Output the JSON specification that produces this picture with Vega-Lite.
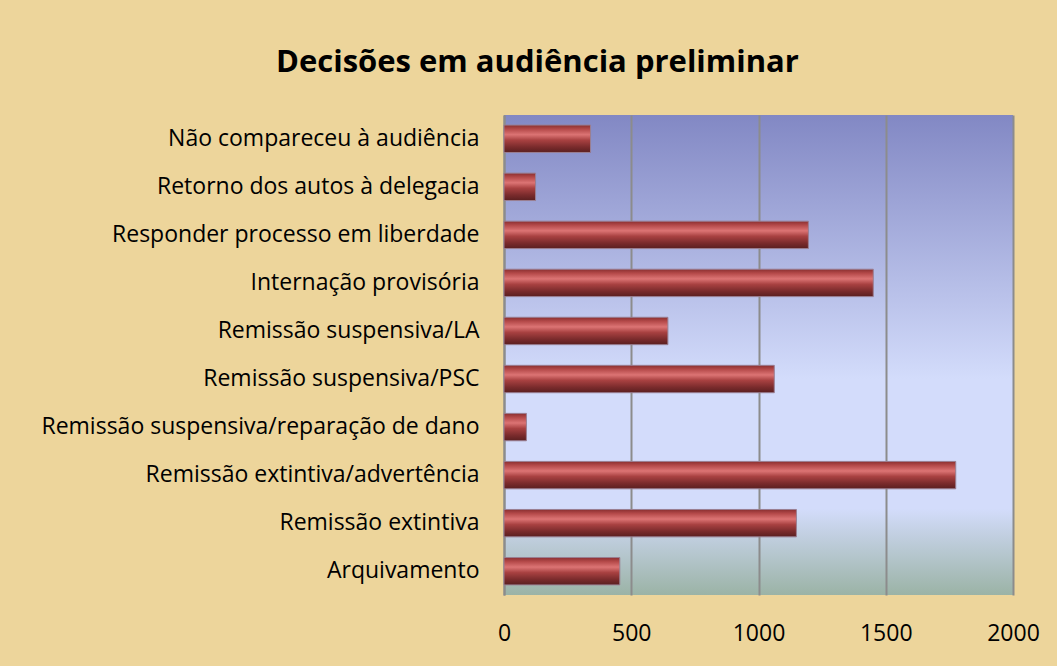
{
  "$schema": "https://vega.github.io/schema/vega-lite/v6.json",
  "autosize": {"type": "none"},
  "width": 509,
  "height": 480,
  "padding": {"left": 504, "top": 115, "right": 44, "bottom": 71},
  "background": "#EDD59B",
  "title": {
    "text": "Decisões em audiência preliminar",
    "font": "Open Sans",
    "fontSize": 31,
    "fontWeight": "bold",
    "color": "#000000",
    "anchor": "start",
    "frame": "group",
    "dx": -228,
    "offset": 36
  },
  "data": {
    "values": [
      {"decisao": "Não compareceu à audiência", "n": 340},
      {"decisao": "Retorno dos autos à delegacia", "n": 124},
      {"decisao": "Responder processo em liberdade", "n": 1196},
      {"decisao": "Internação provisória", "n": 1451},
      {"decisao": "Remissão suspensiva/LA", "n": 644},
      {"decisao": "Remissão suspensiva/PSC", "n": 1062},
      {"decisao": "Remissão suspensiva/reparação de dano", "n": 88},
      {"decisao": "Remissão extintiva/advertência", "n": 1775},
      {"decisao": "Remissão extintiva", "n": 1149},
      {"decisao": "Arquivamento", "n": 455}
    ]
  },
  "mark": {
    "type": "bar",
    "color": {
      "gradient": "linear",
      "x1": 0, "y1": 0, "x2": 0, "y2": 1,
      "stops": [
        {"offset": 0, "color": "#8a2f30"},
        {"offset": 0.15, "color": "#b54a4a"},
        {"offset": 0.35, "color": "#dc7474"},
        {"offset": 0.55, "color": "#a84141"},
        {"offset": 0.8, "color": "#7a2b2c"},
        {"offset": 1, "color": "#5a1f20"}
      ]
    },
    "stroke": "#9a7f92",
    "strokeWidth": 1
  },
  "encoding": {
    "y": {
      "field": "decisao",
      "type": "nominal",
      "sort": null,
      "scale": {"paddingInner": 0.43, "paddingOuter": 0.21},
      "axis": {
        "title": null,
        "labelFont": "Open Sans",
        "labelFontSize": 23,
        "labelColor": "#000000",
        "labelPadding": 25,
        "labelLimit": 600,
        "ticks": false,
        "domain": true,
        "domainColor": "#8c8c8c",
        "domainWidth": 2,
        "grid": false
      }
    },
    "x": {
      "field": "n",
      "type": "quantitative",
      "scale": {"domain": [0, 2000], "nice": false},
      "axis": {
        "title": null,
        "values": [0, 500, 1000, 1500, 2000],
        "format": "d",
        "labelFont": "Open Sans",
        "labelFontSize": 23,
        "labelColor": "#000000",
        "labelPadding": 27,
        "labelFlush": false,
        "ticks": false,
        "domain": false,
        "grid": true,
        "gridColor": "#8c8c8c",
        "gridWidth": 2
      }
    }
  },
  "config": {
    "view": {
      "stroke": null,
      "fill": {
        "gradient": "linear",
        "x1": 0, "y1": 0, "x2": 0, "y2": 1,
        "stops": [
          {"offset": 0, "color": "#8288c4"},
          {"offset": 0.55, "color": "#d3dcfb"},
          {"offset": 0.82, "color": "#d3dcfb"},
          {"offset": 1, "color": "#9bb3a6"}
        ]
      }
    }
  }
}
